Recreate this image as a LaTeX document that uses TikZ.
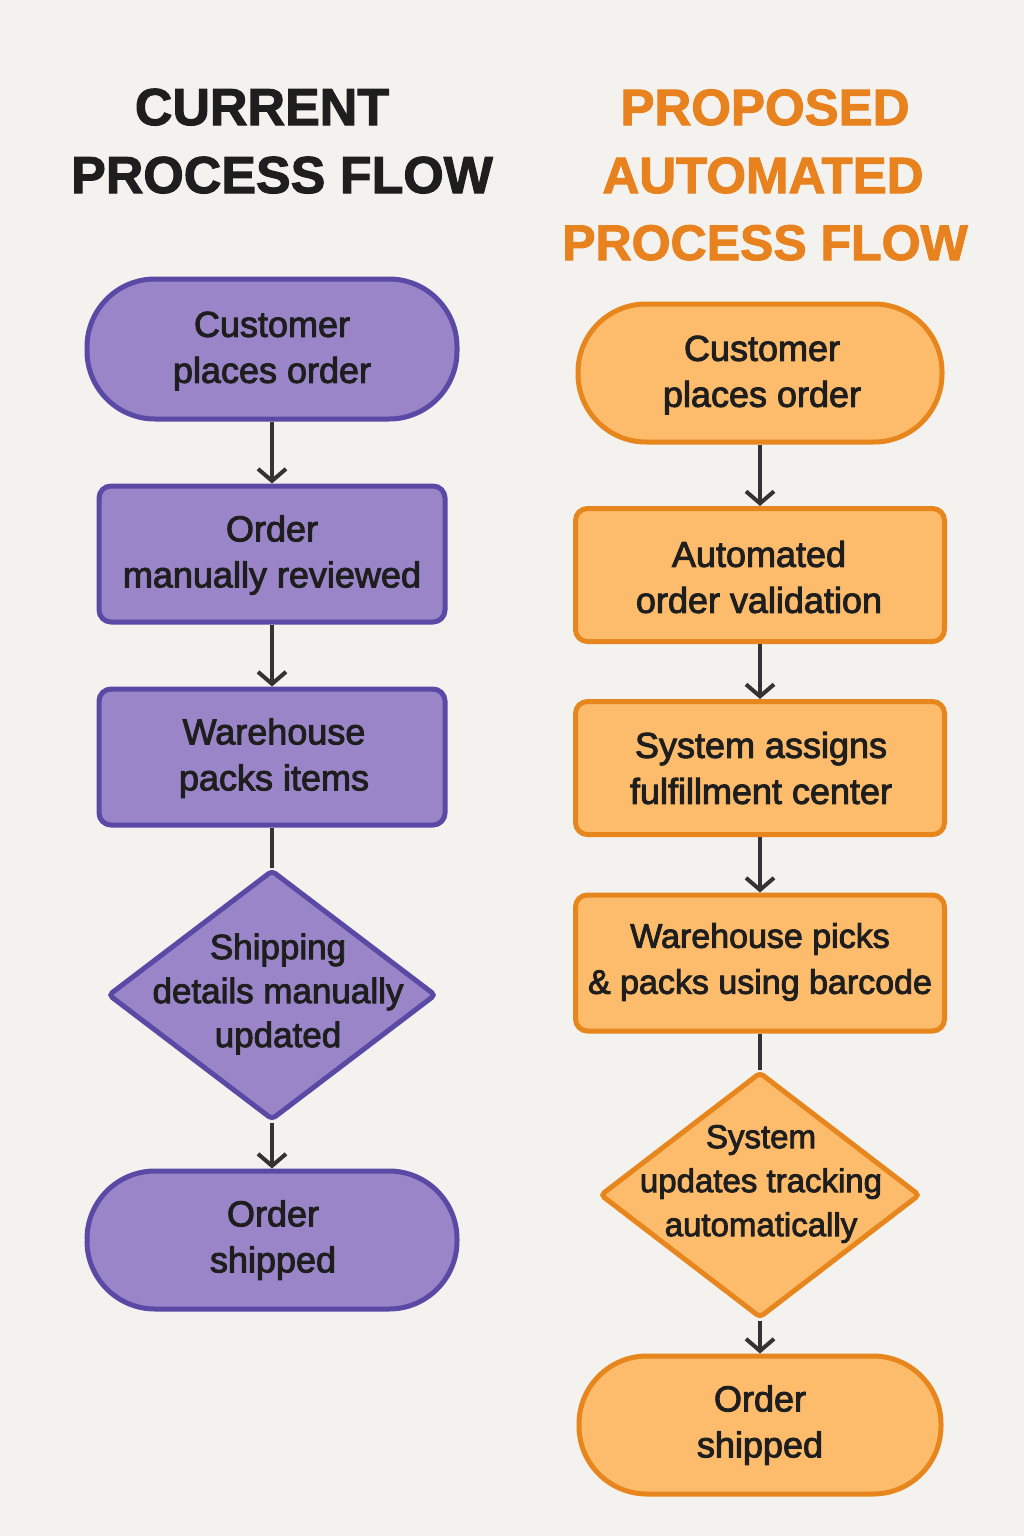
\documentclass[tikz,border=0pt]{standalone}
\usepackage{fontspec}
\setmainfont{Liberation Sans}
\newfontfamily\nodefont{Liberation Sans}[FakeBold=2.6]
\newfontfamily\titlefont{Liberation Sans Bold}[FakeBold=2]
\usetikzlibrary{arrows.meta,shapes.geometric}
\definecolor{bgc}{HTML}{F4F2EE}
\definecolor{pfill}{HTML}{9A85C8}
\definecolor{pline}{HTML}{5A4AA6}
\definecolor{ofill}{HTML}{FDBC6C}
\definecolor{oline}{HTML}{E8861E}
\definecolor{ink}{HTML}{1E1E1E}
\definecolor{arr}{HTML}{333333}
\definecolor{otitle}{HTML}{E8821E}
\tikzset{
  ttl/.style={font=\titlefont\fontsize{52}{68}\selectfont, anchor=base},
  txt/.style={font=\nodefont\fontsize{36}{46}\selectfont, align=center, text=ink, inner sep=0pt},
  pstyle/.style={fill=pfill, draw=pline, line width=5pt},
  ostyle/.style={fill=ofill, draw=oline, line width=5pt},
  stadium/.style={rectangle, rounded corners=68pt, minimum width=368pt, minimum height=138pt},
  boxnode/.style={rectangle, rounded corners=12pt, minimum width=346pt, minimum height=136pt},
  dia/.style={diamond, inner sep=0pt, rounded corners=4pt},
  conn/.style={draw=arr, line width=4pt},
  arrw/.style={conn, -{Straight Barb[length=12pt,width=28pt,line width=4pt]}}
}
\begin{document}
\begin{tikzpicture}[x=1pt,y=-1pt]
\fill[bgc] (0,0) rectangle (1024,1536);
\useasboundingbox (0,0) rectangle (1024,1536);

% titles
\node[ttl, text=ink] (ta) at (262,125) {CURRENT};
\node[ttl, text=ink] (tb) at (282,193) {PROCESS FLOW};
\node[ttl, text=otitle, font=\titlefont\fontsize{51}{68}\selectfont] (tc) at (765,125) {PROPOSED};
\node[ttl, text=otitle, font=\titlefont\fontsize{51}{68}\selectfont] (td) at (763,193) {AUTOMATED};
\node[ttl, text=otitle, font=\titlefont\fontsize{50}{68}\selectfont] (te) at (765,260) {PROCESS FLOW};

% left column
\node[pstyle, stadium, minimum width=370pt, minimum height=140pt] (l1) at (272,349) {};
\node[txt] at (272,351) {Customer\\places order};
\node[pstyle, boxnode] (l2) at (272,554) {};
\node[txt] at (272,555) {Order\\manually reviewed};
\node[pstyle, boxnode] (l3) at (272,757) {};
\node[txt] at (274,758) {Warehouse\\packs items};
\node[pstyle, dia, minimum width=328pt, minimum height=250pt] (l4) at (272,995) {};
\node[txt, font=\nodefont\fontsize{35}{44}\selectfont] at (278,994) {Shipping\\details manually\\updated};
\node[pstyle, stadium, minimum width=370pt, minimum height=138pt] (l5) at (272,1240) {};
\node[txt] at (273,1240) {Order\\shipped};

\draw[arrw] (l1.south) -- (l2.north);
\draw[arrw] (l2.south) -- (l3.north);
\draw[conn] (l3.south) -- (l4.north);
\draw[arrw] (l4.south) -- (l5.north);

% right column
\node[ostyle, stadium, minimum width=364pt, minimum height=138pt] (r1) at (760,373) {};
\node[txt] at (762,375) {Customer\\places order};
\node[ostyle, boxnode, minimum width=369pt, minimum height=133pt] (r2) at (760,575) {};
\node[txt] at (759,577) {Automated\\order validation};
\node[ostyle, boxnode, minimum width=369pt, minimum height=133pt] (r3) at (760,768) {};
\node[txt] at (761,768) {System assigns\\fulfillment center};
\node[ostyle, boxnode, minimum width=369pt, minimum height=136pt] (r4) at (760,963) {};
\node[txt, font=\nodefont\fontsize{34}{46}\selectfont] at (760,962) {Warehouse picks\\\& packs using barcode};
\node[ostyle, dia, minimum width=320pt, minimum height=246pt] (r5) at (760,1195) {};
\node[txt, font=\nodefont\fontsize{33}{44}\selectfont] at (761,1184) {System\\updates tracking\\automatically};
\node[ostyle, stadium, minimum width=362pt, minimum height=138pt] (r6) at (760,1425) {};
\node[txt] at (760,1425) {Order\\shipped};

\draw[arrw] (r1.south) -- (r2.north);
\draw[arrw] (r2.south) -- (r3.north);
\draw[arrw] (r3.south) -- (r4.north);
\draw[conn] (r4.south) -- (r5.north);
\draw[arrw] (r5.south) -- (r6.north);
\end{tikzpicture}
\end{document}
